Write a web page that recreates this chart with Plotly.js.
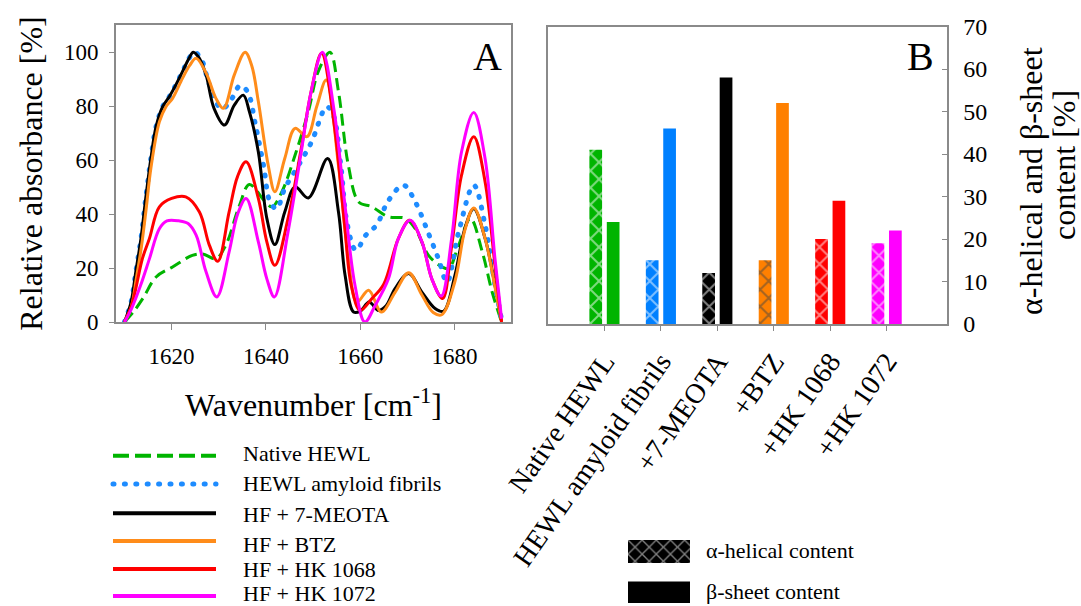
<!DOCTYPE html>
<html>
<head>
<meta charset="utf-8">
<script src="https://cdn.plot.ly/plotly-3.0.1.min.js"></script>
<style>
html,body{margin:0;padding:0;background:#fff;}
#chart{width:1081px;height:606px;}
path[style*="dasharray: 1px"]{stroke-linecap:round;}
</style>
</head>
<body>
<div id="chart"></div>
<script>
// ---------- Panel A: FTIR amide I spectra ----------
const wnNative = [1610,1612,1614,1616.7,1620.2,1624.4,1626.6,1629.4,1631.5,1634.4,1636.5,1639.9,1641.3,1643.4,1646.2,1649,1651.1,1653.6,1655.4,1657.5,1659.7,1662.5,1666,1669.6,1671.7,1674.5,1677.4,1678.8,1680.9,1683.4,1685.9,1688,1690];
const absNative = [0,4,9,16.7,20.4,24.7,25.2,23.5,28.5,43.3,51,44.5,42.7,48.3,61.9,78,92.8,100,85.4,58,44.5,42.7,39,38.4,34.6,24.7,20.4,19.8,28.5,38.4,26,11.1,0];

const wnFibrils = [1610,1611.4,1612.4,1613.5,1614.5,1615.6,1616.7,1618.1,1619.5,1620.9,1622.3,1623.7,1624.8,1626.2,1627.6,1629,1630.7,1632.6,1634.5,1636.1,1637.8,1639.5,1640.9,1642.3,1644,1646.9,1649.7,1652.9,1654.3,1655.9,1657.3,1659.1,1661.2,1663.5,1666,1669.2,1671.7,1674.5,1676.7,1678.4,1680.9,1684.1,1686.5,1688.6,1690];
const absFibrils = [0,7.4,18.6,31,45.8,60.6,72.4,79.8,83.5,87.9,92.8,97.8,100,97.8,90.3,82.9,79,82.3,87.6,85.4,73,58,44.5,42,49.5,58,66.8,79.8,76.7,58,35.9,26.6,32.2,36,45,50.7,44.5,32.8,23,14.8,33.4,50.7,36,13.6,1];

const wnMeota = [1610,1611.4,1612.4,1613.5,1614.5,1615.6,1616.7,1618.1,1619.5,1620.9,1622.3,1623.7,1624.6,1625.8,1627.3,1629,1631.2,1633.3,1635.2,1636.5,1638.4,1640.2,1641.9,1644,1646.2,1649,1653.1,1655.4,1656.8,1658.6,1660,1661.9,1663.9,1665.5,1667.4,1670.3,1673.1,1675.9,1677.7,1680.1,1682.2,1684.1,1686.5,1688.6,1690];
const absMeota = [0,7.4,18.6,31,45.8,60.6,72.4,79.8,83.5,87.9,92.8,97.8,100,98,91.6,79.2,73,80.4,84.1,78,63,38.4,28.7,40.8,50.1,46,60.6,40.8,17.3,3.7,4,7.4,4.3,6,12.4,18,11.1,5,4,17.3,34.6,42,31,13.6,0];

const wnBtz = [1610,1611.5,1612.5,1613.6,1614.6,1615.6,1617.4,1618.8,1620.2,1622.3,1623.8,1625.2,1627.4,1629.4,1631,1633.3,1635.6,1637,1638.4,1640.5,1641.9,1644,1646.2,1648.7,1650.8,1652.8,1655.4,1657.5,1659.3,1661.8,1664.5,1667.4,1670.3,1673.1,1675.5,1677.3,1680.1,1682.2,1684.1,1686.5,1688.6,1690];
const absBtz = [0,6,16,28,42,57,74.2,79.8,82.9,90.3,95,97.8,92,82.9,79.2,91.6,100,95,81.7,58,48.3,60.6,71.8,68.7,80,89.7,58,23.5,7.4,11.8,3.7,11,18.3,10,3.5,2.7,15,34,42.3,31,13,0];

const wnHk1068 = [1610,1611.5,1612.4,1613.8,1615.3,1617.4,1620,1623,1625.9,1628,1629.8,1632.2,1634,1635.8,1638.4,1640.2,1641.9,1644.7,1647.5,1649.6,1651.8,1654.5,1656.7,1658.1,1660,1662.5,1665,1668.1,1670.5,1673.1,1675.2,1677.5,1679.4,1681.5,1684.1,1686.5,1688.6,1690];
const absHk1068 = [0,6,12.4,23.5,31,42.7,45.8,46.4,40.8,28.5,22.5,40.8,54,59.4,45.8,29.7,21,38.4,64.3,85.4,99.6,73,35.9,13.6,4.3,8.7,14,30.9,37.7,29.7,16,8.7,28,54.4,68.7,52,21,0];

const wnHk1072 = [1610,1611.5,1613.5,1615.3,1617.4,1619,1621.5,1623.5,1625.2,1627.3,1629.6,1632.2,1634,1635.8,1638.4,1640.2,1641.8,1644.7,1647.5,1649.6,1652,1654.5,1656.7,1658.9,1661,1663.2,1666,1668.1,1670.6,1673.1,1675.2,1677.2,1679.4,1681.5,1684.1,1686.5,1688.6,1690];
const absHk1072 = [0,5,14,23.5,34.6,37.5,37.5,36.5,32.2,18.6,9.3,26,40,45.8,29.7,16,9.3,33.4,63,85.4,100,78,44.5,13.6,0,6.2,16,30.9,37.7,29.7,16,9.6,30.9,63,77.7,60.6,23.5,1.2];

const seriesNames = ['Native HEWL','HEWL amyloid fibrils','HF + 7-MEOTA','HF + BTZ','HF + HK 1068','HF + HK 1072'];
const xTickVals = [1620,1640,1660,1680];
const yTickVals = [0,20,40,60,80,100];

// ---------- Panel B: secondary structure ----------
const samples = ['Native HEWL','HEWL amyloid fibrils','+7-MEOTA','+BTZ','+HK 1068','+HK 1072'];
const alphaHelical = [41,15,12,15,20,19];
const betaSheet = [24,46,58,52,29,22];
const sampleColors = ['#00b400','#0080ff','#000000','#ff8000','#ff0000','#ff00ff'];

const lineColors = ['#00b400','#1e8cff','#000000','#ff8c1a','#ff0000','#ff00ff'];
const lineDashes = ['12px,6px','1px,10px','solid','solid','solid','solid'];
const lineWidths = [3,5,3,3,3,3];

const FONT = 'Liberation Serif, Times New Roman, serif';
const W = 1081, H = 606;
const px = v => v / W;
const py = v => 1 - v / H;

const wnSets = [wnNative,wnFibrils,wnMeota,wnBtz,wnHk1068,wnHk1072];
const absSets = [absNative,absFibrils,absMeota,absBtz,absHk1068,absHk1072];

const traces = [];
for (let i = 0; i < 6; i++) {
  traces.push({
    type:'scatter', mode:'lines', x: wnSets[i], y: absSets[i], name: seriesNames[i],
    xaxis:'x', yaxis:'y',
    line:{color: lineColors[i], width: lineWidths[i], dash: lineDashes[i], shape:'spline', smoothing:1.0},
    showlegend:false, hoverinfo:'skip'
  });
}
traces.push({
  type:'bar', x: samples, y: alphaHelical, name:'α-helical content', xaxis:'x2', yaxis:'y2',
  marker:{color: sampleColors, line:{width:0},
    pattern:{shape:'x', fgcolor:'#ffffff', size:12, solidity:0.3, fillmode:'overlay'}},
  showlegend:false, hoverinfo:'skip'
});
traces.push({
  type:'bar', x: samples, y: betaSheet, name:'β-sheet content', xaxis:'x2', yaxis:'y2',
  marker:{color: sampleColors, line:{width:0}},
  showlegend:false, hoverinfo:'skip'
});
// legend swatch for hatched bars (own tiny axes)
traces.push({
  type:'bar', x:['α-helical content'], y:[1], width:[1], xaxis:'x3', yaxis:'y3',
  marker:{color:'#000000', line:{width:0},
    pattern:{shape:'x', fgcolor:'#ffffff', size:10, solidity:0.25, fillmode:'overlay'}},
  showlegend:false, hoverinfo:'skip'
});

const frame = '#8a8a8a';
const tickFont = {family: FONT, size: 23, color:'#000'};

const shapes = [];
const annotations = [];
// Left legend (line samples + labels)
const legY = [455.7, 484, 513.3, 541, 569, 596];
const legTextY = [453, 483, 514, 544, 569, 593];
for (let i = 0; i < 6; i++) {
  shapes.push({type:'line', xref:'paper', yref:'paper', x0:px(113), x1:px(216), y0:py(legY[i]), y1:py(legY[i]),
    line:{color: lineColors[i], width: i===1 ? 5 : 4, dash: i===0 ? '16px,6px' : (i===1 ? '1px,10.4px' : 'solid')}});
  annotations.push({xref:'paper', yref:'paper', x:px(241), y:py(legTextY[i]), xanchor:'left', yanchor:'middle',
    text: seriesNames[i], showarrow:false, font:{family:FONT, size:22, color:'#000'}});
}
// Right legend: solid swatch + labels
shapes.push({type:'rect', xref:'paper', yref:'paper', x0:px(628), x1:px(690), y0:py(603), y1:py(581.5),
  fillcolor:'#000', line:{width:0}});
annotations.push({xref:'paper', yref:'paper', x:px(704), y:py(550), xanchor:'left', yanchor:'middle',
  text:'α-helical content', showarrow:false, font:{family:FONT, size:22, color:'#000'}});
annotations.push({xref:'paper', yref:'paper', x:px(704), y:py(591), xanchor:'left', yanchor:'middle',
  text:'β-sheet content', showarrow:false, font:{family:FONT, size:22, color:'#000'}});
// Panel letters
annotations.push({xref:'paper', yref:'paper', x:px(487), y:py(56), text:'A', showarrow:false,
  font:{family:FONT, size:40, color:'#000'}, xanchor:'center', yanchor:'middle'});
annotations.push({xref:'paper', yref:'paper', x:px(920.5), y:py(56), text:'B', showarrow:false,
  font:{family:FONT, size:40, color:'#000'}, xanchor:'center', yanchor:'middle'});
// Right y title (two lines)
annotations.push({xref:'paper', yref:'paper', x:px(1031), y:py(181), text:'α-helical and β-sheet', textangle:-90,
  showarrow:false, font:{family:FONT, size:32, color:'#000'}, xanchor:'center', yanchor:'middle'});
annotations.push({xref:'paper', yref:'paper', x:px(1064), y:py(165), text:'content [%]', textangle:-90,
  showarrow:false, font:{family:FONT, size:32, color:'#000'}, xanchor:'center', yanchor:'middle'});

const layout = {
  width: W, height: H,
  margin:{l:0, r:0, t:0, b:0, pad:0},
  paper_bgcolor:'#fff', plot_bgcolor:'#fff',
  showlegend:false,
  font:{family: FONT, color:'#000'},
  barmode:'group', bargap:0.383, bargroupgap:0.27,
  xaxis:{domain:[px(116), px(511)], range:[1608.2, 1692], tickvals: xTickVals, ticks:'outside', ticklen:6, tickwidth:1,
    tickcolor: frame, showline:true, linecolor: frame, linewidth:2, mirror:true, showgrid:false, zeroline:false,
    tickfont: tickFont, ticklabelstandoff:6, automargin:false,
    title:{text:'Wavenumber [cm<sup>-1</sup>]', font:{family:FONT, size:32, color:'#000'}, standoff:26}},
  yaxis:{domain:[py(322), py(25)], range:[0, 110.1], tickvals: yTickVals, ticks:'outside', ticklen:5, tickwidth:1,
    tickcolor: frame, showline:true, linecolor: frame, linewidth:2, mirror:true, showgrid:false, zeroline:false,
    tickfont: tickFont, ticklabelstandoff:6, automargin:false,
    title:{text:'Relative absorbance [%]', font:{family:FONT, size:32, color:'#000'}, standoff:12}},
  xaxis2:{domain:[px(548), px(946.5)], range:[-1, 6.06], type:'category', ticks:'outside', ticklen:5, tickwidth:1,
    tickcolor: frame, showline:true, linecolor: frame, linewidth:2, mirror:true, showgrid:false, zeroline:false,
    tickangle:-55, tickfont:{family:FONT, size:28, color:'#000'}, ticklabelstandoff:3, automargin:false, anchor:'y2'},
  yaxis2:{domain:[py(324), py(26.5)], range:[0, 70], dtick:10, side:'right', ticks:'inside', ticklen:5, tickwidth:1,
    tickcolor: frame, showline:true, linecolor: frame, linewidth:2, mirror:true, showgrid:false, zeroline:false,
    tickfont:{family:FONT, size:24, color:'#000'}, ticklabelstandoff:10, automargin:false, anchor:'x2'},
  xaxis3:{domain:[px(628), px(690)], range:[-0.5, 0.5], visible:false, anchor:'y3', fixedrange:true},
  yaxis3:{domain:[py(563), py(540)], range:[0, 1], visible:false, anchor:'x3', fixedrange:true},
  shapes: shapes,
  annotations: annotations
};

Plotly.newPlot('chart', traces, layout, {staticPlot:true, displayModeBar:false});
</script>
</body>
</html>
